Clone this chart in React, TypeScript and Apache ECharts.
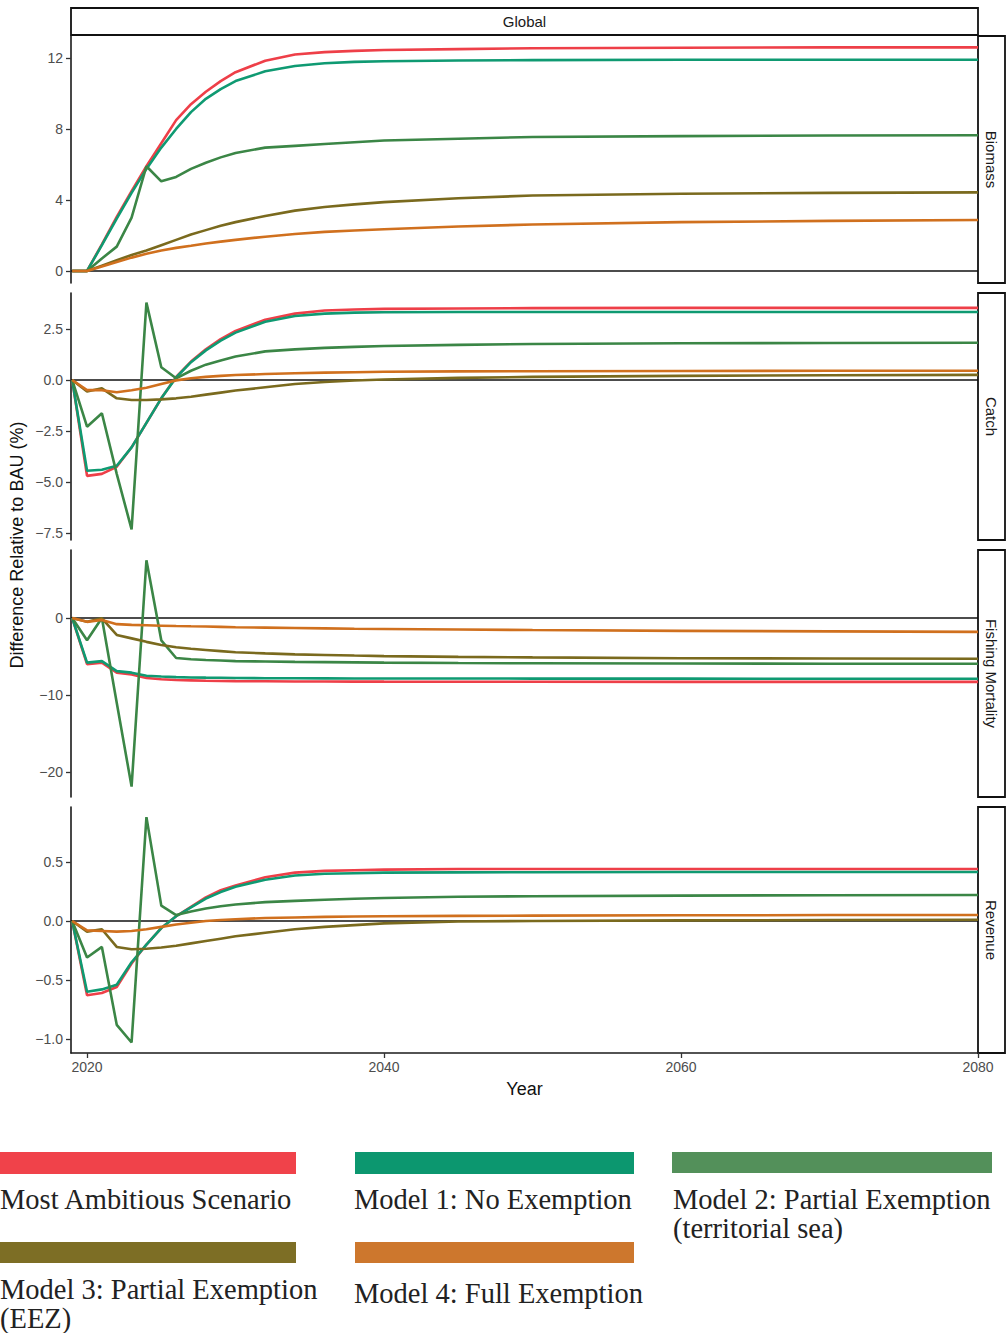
import React, { useEffect, useRef } from "react";
import * as echarts from "echarts";

// ---------- data ----------
const years = [2019, 2020, 2021, 2022, 2023, 2024, 2025, 2026, 2027, 2028, 2029, 2030, 2032, 2034, 2036, 2038, 2040, 2045, 2050, 2060, 2070, 2080];

const seriesNames = [
  "Most Ambitious Scenario",
  "Model 1: No Exemption",
  "Model 2: Partial Exemption (territorial sea)",
  "Model 3: Partial Exemption (EEZ)",
  "Model 4: Full Exemption",
];

const panelNames = ["Biomass", "Catch", "Fishing Mortality", "Revenue"];

// Biomass
const biomassMostAmbitious = [0, 0, 1.5, 3.05, 4.5, 5.9, 7.2, 8.5, 9.4, 10.1, 10.7, 11.2, 11.85, 12.2, 12.33, 12.4, 12.45, 12.5, 12.55, 12.58, 12.6, 12.6];
const biomassModel1 = [0, 0, 1.45, 2.95, 4.4, 5.75, 6.95, 8.0, 8.95, 9.7, 10.25, 10.7, 11.25, 11.55, 11.7, 11.78, 11.82, 11.86, 11.88, 11.9, 11.9, 11.9];
const biomassModel2 = [0, 0, 0.7, 1.37, 3.0, 5.9, 5.05, 5.3, 5.75, 6.1, 6.4, 6.65, 6.95, 7.05, 7.15, 7.25, 7.35, 7.45, 7.55, 7.6, 7.63, 7.65];
const biomassModel3 = [0, 0, 0.3, 0.6, 0.9, 1.15, 1.45, 1.75, 2.05, 2.3, 2.55, 2.75, 3.1, 3.4, 3.6, 3.75, 3.88, 4.1, 4.25, 4.35, 4.4, 4.43];
const biomassModel4 = [0, 0, 0.25, 0.5, 0.75, 0.97, 1.15, 1.3, 1.42, 1.55, 1.65, 1.75, 1.93, 2.08, 2.2, 2.28, 2.35, 2.5, 2.62, 2.75, 2.82, 2.87];

// Catch
const catchMostAmbitious = [0, -4.7, -4.6, -4.25, -3.3, -2.1, -0.9, 0.15, 0.9, 1.5, 2.0, 2.4, 2.95, 3.25, 3.4, 3.45, 3.48, 3.5, 3.52, 3.53, 3.53, 3.53];
const catchModel1 = [0, -4.45, -4.4, -4.2, -3.3, -2.1, -0.9, 0.12, 0.87, 1.45, 1.93, 2.32, 2.85, 3.13, 3.25, 3.3, 3.32, 3.33, 3.33, 3.33, 3.33, 3.33];
const catchModel2 = [0, -2.29, -1.63, -4.6, -7.32, 3.79, 0.62, 0.08, 0.45, 0.75, 0.95, 1.15, 1.4, 1.5, 1.57, 1.62, 1.66, 1.72, 1.76, 1.8, 1.81, 1.82];
const catchModel3 = [0, -0.57, -0.41, -0.9, -0.98, -0.98, -0.95, -0.9, -0.82, -0.72, -0.62, -0.52, -0.36, -0.2, -0.1, -0.03, 0.02, 0.1, 0.15, 0.2, 0.23, 0.25];
const catchModel4 = [0, -0.5, -0.5, -0.6, -0.5, -0.38, -0.2, -0.02, 0.08, 0.15, 0.2, 0.24, 0.29, 0.33, 0.36, 0.38, 0.4, 0.42, 0.43, 0.44, 0.45, 0.45];

// Fishing mortality
const mortalityMostAmbitious = [0, -6.0, -5.8, -7.1, -7.35, -7.8, -7.95, -8.05, -8.1, -8.15, -8.18, -8.2, -8.22, -8.24, -8.25, -8.26, -8.27, -8.28, -8.29, -8.3, -8.3, -8.3];
const mortalityModel1 = [0, -5.8, -5.6, -6.9, -7.1, -7.5, -7.6, -7.68, -7.72, -7.75, -7.77, -7.8, -7.82, -7.83, -7.84, -7.85, -7.85, -7.86, -7.87, -7.88, -7.89, -7.9];
const mortalityModel2 = [0, -2.9, 0.0, -11.0, -21.9, 7.5, -2.9, -5.2, -5.35, -5.45, -5.52, -5.6, -5.65, -5.7, -5.73, -5.76, -5.8, -5.85, -5.88, -5.92, -5.94, -5.95];
const mortalityModel3 = [0, -0.5, -0.05, -2.2, -2.65, -3.1, -3.5, -3.8, -4.0, -4.15, -4.3, -4.45, -4.6, -4.72, -4.8, -4.88, -4.95, -5.05, -5.12, -5.22, -5.27, -5.3];
const mortalityModel4 = [0, -0.5, -0.25, -0.8, -0.9, -0.95, -1.0, -1.05, -1.08, -1.1, -1.15, -1.2, -1.25, -1.3, -1.35, -1.4, -1.43, -1.5, -1.57, -1.67, -1.74, -1.8];

// Revenue
const revenueMostAmbitious = [0, -0.63, -0.61, -0.56, -0.36, -0.2, -0.06, 0.04, 0.12, 0.2, 0.26, 0.3, 0.37, 0.41, 0.425, 0.43, 0.435, 0.44, 0.44, 0.44, 0.44, 0.44];
const revenueModel1 = [0, -0.6, -0.58, -0.54, -0.35, -0.2, -0.06, 0.04, 0.115, 0.19, 0.245, 0.29, 0.35, 0.385, 0.4, 0.405, 0.41, 0.412, 0.413, 0.415, 0.415, 0.415];
const revenueModel2 = [0, -0.31, -0.22, -0.88, -1.03, 0.88, 0.13, 0.05, 0.08, 0.105, 0.125, 0.14, 0.16, 0.17, 0.18, 0.188, 0.195, 0.205, 0.21, 0.215, 0.218, 0.22];
const revenueModel3 = [0, -0.09, -0.07, -0.22, -0.24, -0.235, -0.225, -0.21, -0.19, -0.17, -0.15, -0.13, -0.1, -0.07, -0.05, -0.035, -0.02, -0.005, 0.0, 0.005, 0.008, 0.01];
const revenueModel4 = [0, -0.08, -0.085, -0.09, -0.085, -0.07, -0.05, -0.03, -0.015, 0.0, 0.008, 0.015, 0.025, 0.03, 0.035, 0.038, 0.04, 0.043, 0.045, 0.048, 0.05, 0.05];

// Tick labels
const yearTicks = [2020, 2040, 2060, 2080];
const biomassTicks = [0, 4, 8, 12];
const catchTicks = [-7.5, -5, -2.5, 0, 2.5];
const mortalityTicks = [-20, -10, 0];
const revenueTicks = [-1, -0.5, 0, 0.5];

// ---------- styling / layout ----------
const lineColors = ["#ee3f48", "#0f9a72", "#3b8646", "#7a6a1e", "#d0701e"];
const legendColors = ["#f0424a", "#0c976f", "#53905a", "#7d6e25", "#cd772d"];

const panelValues = [
  [biomassMostAmbitious, biomassModel1, biomassModel2, biomassModel3, biomassModel4],
  [catchMostAmbitious, catchModel1, catchModel2, catchModel3, catchModel4],
  [mortalityMostAmbitious, mortalityModel1, mortalityModel2, mortalityModel3, mortalityModel4],
  [revenueMostAmbitious, revenueModel1, revenueModel2, revenueModel3, revenueModel4],
];
const panelTicks = [biomassTicks, catchTicks, mortalityTicks, revenueTicks];
const panelDecimals = [0, 1, 0, 1];
const panelRange = [
  [-0.68, 13.24],
  [-7.84, 4.26],
  [-23.25, 8.83],
  [-1.119, 0.966],
];
const panelTop = [36, 293, 550, 807];
const panelHeight = [247, 247, 247, 246];
const plotLeft = 71;
const plotWidth = 907;

const fmt = (v: number, d: number) => v.toFixed(d).replace("-", "\u2212");

export default function App() {
  const ref = useRef<HTMLDivElement>(null);

  useEffect(() => {
    document.body.style.margin = "0";
    if (!ref.current) return;
    const chart = echarts.init(ref.current, undefined, { renderer: "svg" });

    const grids = panelTop.map((t, i) => ({
      left: plotLeft,
      top: t,
      width: plotWidth,
      height: panelHeight[i],
      outerBoundsMode: "none",
    }));

    const xAxes = panelTop.map((_, i) => ({
      type: "value",
      gridIndex: i,
      min: 2018.92,
      max: 2080,
      show: i === 3,
      splitLine: { show: false },
      axisLine: { show: true, onZero: false, lineStyle: { color: "#1a1a1a", width: 1.6 } },
      axisTick: { show: true, length: 5, customValues: yearTicks, lineStyle: { color: "#333", width: 1.3 } },
      axisLabel: {
        show: true,
        customValues: yearTicks,
        formatter: (v: number) => String(v),
        color: "#4d4d4d",
        fontSize: 14,
        fontFamily: "Liberation Sans",
        margin: 7,
      },
      name: i === 3 ? "Year" : "",
      nameLocation: "middle",
      nameGap: 27,
      nameTextStyle: { color: "#111", fontSize: 18, fontFamily: "Liberation Sans" },
    }));

    const yAxes = panelTop.map((_, i) => ({
      type: "value",
      gridIndex: i,
      min: panelRange[i][0],
      max: panelRange[i][1],
      splitLine: { show: false },
      axisLine: { show: true, onZero: false, lineStyle: { color: "#1a1a1a", width: 1.6 } },
      axisTick: { show: true, length: 5, customValues: panelTicks[i], lineStyle: { color: "#333", width: 1.3 } },
      axisLabel: {
        show: true,
        customValues: panelTicks[i],
        formatter: (v: number) => fmt(v, panelDecimals[i]),
        color: "#4d4d4d",
        fontSize: 14,
        fontFamily: "Liberation Sans",
        margin: 8,
      },
    }));

    const series: any[] = [];
    panelValues.forEach((vals, p) => {
      vals.forEach((arr, s) => {
        series.push({
          type: "line",
          name: seriesNames[s],
          xAxisIndex: p,
          yAxisIndex: p,
          data: years.map((y, j) => [y, arr[j]]),
          showSymbol: false,
          symbol: "none",
          lineStyle: { color: lineColors[s], width: 2.6 },
          z: 3 + s,
          silent: true,
          markLine:
            s === 0
              ? {
                  silent: true,
                  symbol: "none",
                  label: { show: false },
                  lineStyle: { color: "#111", width: 1.6, type: "solid" },
                  data: [{ yAxis: 0 }],
                  z: 2,
                }
              : undefined,
        });
      });
    });

    const graphics: any[] = [];
    // Top strip
    graphics.push({
      type: "rect",
      shape: { x: plotLeft, y: 8, width: plotWidth, height: 27 },
      style: { fill: "#fff", stroke: "#111", lineWidth: 1.8 },
    });
    graphics.push({
      type: "text",
      x: plotLeft + plotWidth / 2,
      y: 21.5,
      style: { text: "Global", fill: "#1a1a1a", fontSize: 15, fontFamily: "Liberation Sans", align: "center", verticalAlign: "middle" },
    });
    // Right strips
    panelTop.forEach((t, i) => {
      graphics.push({
        type: "rect",
        shape: { x: plotLeft + plotWidth, y: t, width: 27, height: panelHeight[i] },
        style: { fill: "#fff", stroke: "#111", lineWidth: 1.8 },
      });
      graphics.push({
        type: "text",
        x: plotLeft + plotWidth + 13.5,
        y: t + panelHeight[i] / 2,
        rotation: -Math.PI / 2,
        style: { text: panelNames[i], fill: "#1a1a1a", fontSize: 15, fontFamily: "Liberation Sans", align: "center", verticalAlign: "middle" },
      });
    });
    // Y axis title
    graphics.push({
      type: "text",
      x: 17,
      y: 545,
      rotation: Math.PI / 2,
      style: {
        text: "Difference Relative to BAU (%)",
        fill: "#111",
        fontSize: 18,
        fontFamily: "Liberation Sans",
        align: "center",
        verticalAlign: "middle",
      },
    });

    // Legend
    const legendItems = [
      { bx: 0, by: 1152, bw: 296, bh: 22, tx: 0, lines: ["Most Ambitious Scenario"], ty: 1199 },
      { bx: 355, by: 1152, bw: 279, bh: 22, tx: 354, lines: ["Model 1: No Exemption"], ty: 1199 },
      { bx: 672, by: 1152, bw: 320, bh: 21, tx: 673, lines: ["Model 2: Partial Exemption", "(territorial sea)"], ty: 1199 },
      { bx: 0, by: 1242, bw: 296, bh: 21, tx: 0, lines: ["Model 3: Partial Exemption", "(EEZ)"], ty: 1289 },
      { bx: 355, by: 1242, bw: 279, bh: 21, tx: 354, lines: ["Model 4: Full Exemption"], ty: 1293 },
    ];
    legendItems.forEach((it, k) => {
      graphics.push({
        type: "rect",
        shape: { x: it.bx, y: it.by, width: it.bw, height: it.bh },
        style: { fill: legendColors[k] },
      });
      it.lines.forEach((ln, m) => {
        graphics.push({
          type: "text",
          x: it.tx,
          y: it.ty + m * 29,
          style: {
            text: ln,
            fill: "#222",
            fontSize: 28.5,
            fontFamily: "Liberation Serif",
            align: "left",
            verticalAlign: "middle",
          },
        });
      });
    });

    chart.setOption({
      animation: false,
      backgroundColor: "#fff",
      grid: grids,
      xAxis: xAxes,
      yAxis: yAxes,
      series,
      graphic: graphics,
    });

    return () => chart.dispose();
  }, []);

  return (
    <div
      ref={ref}
      style={{ position: "absolute", left: 0, top: 0, width: 1008, height: 1333 }}
    />
  );
}
